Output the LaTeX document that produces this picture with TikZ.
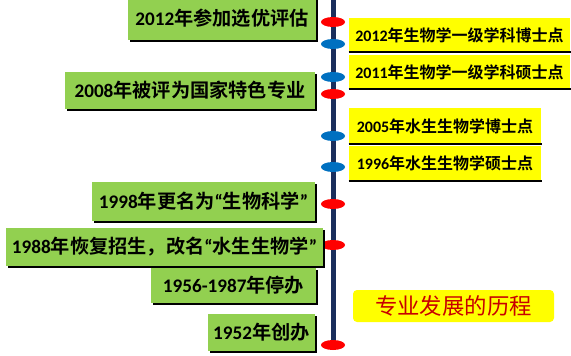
\documentclass[tikz,border=0pt]{standalone}
\usepackage{fontspec}
\setmainfont{Noto Sans CJK SC}[BoldFont={Noto Sans CJK SC Bold}]
\newfontfamily\latin{Carlito}
\usetikzlibrary{shapes.geometric,shadows,backgrounds}

\definecolor{stagegreen}{RGB}{146,208,80}
\definecolor{degreeyellow}{RGB}{255,255,0}
\definecolor{axisnavy}{RGB}{26,46,92}
\definecolor{dotred}{RGB}{255,0,0}
\definecolor{dotblue}{RGB}{0,112,192}
\definecolor{titlered}{RGB}{200,0,0}

\tikzset{every picture/.style={line width=0.75pt}}
\tikzset{
  stage/.style={fill=stagegreen, inner sep=0pt, font=\fontsize{14.4pt}{16pt}\selectfont\bfseries,
    drop shadow={shadow xshift=1.8pt, shadow yshift=-1.8pt, fill=black, opacity=1}},
  degree/.style={fill=degreeyellow, inner sep=0pt, font=\fontsize{12pt}{14pt}\selectfont\bfseries},
  dot/.style={ellipse, draw=none, minimum width=18pt, minimum height=7.5pt, inner sep=0pt},
}

\begin{document}
\begin{tikzpicture}[x=0.75pt,y=0.75pt,yscale=-1,xscale=1]
\useasboundingbox (0,0) rectangle (571,356);

%Shape: Ellipse (time points)
\node [dot, fill=dotred]  (p2012) at (333,22) {};
\node [dot, fill=dotblue] (q2012) at (333,44) {};
\node [dot, fill=dotblue] (q2011) at (333,77) {};
\node [dot, fill=dotred]  (p2008) at (333,94) {};
\node [dot, fill=dotblue] (q2005) at (333,136) {};
\node [dot, fill=dotblue] (q1996) at (333,167) {};
\node [dot, fill=dotred]  (p1998) at (333,204) {};
\node [dot, fill=dotred]  (p1988) at (333,245) {};
\node [dot, fill=dotred]  (p1952) at (333,345) {};

%Straight Lines: time axis
\coordinate (axistop) at (333,0);
\begin{scope}[on background layer]
\draw [axisnavy, line width=3.75pt] (axistop) -- (p1952.center);
\end{scope}

%Shape: Rectangle (stages)
\node [stage, minimum width=141pt, minimum height=32.25pt] (s2012) at (222,18.5)
  {{\latin 2012}年参加选优评估};
\node [stage, minimum width=187.5pt, minimum height=27.75pt] (s2008) at (190,90.5)
  {{\latin 2008}年被评为国家特色专业};
\node [stage, minimum width=167.25pt, minimum height=29.25pt] (s1998) at (203.5,201.5)
  {{\latin 1998}年更名为{\latin “}生物科学{\latin ”}};
\node [stage, minimum width=123.75pt, minimum height=26.25pt] (s1956) at (233.5,285.5)
  {{\latin 1956-1987}年停办};
\node [stage, minimum width=237.75pt, minimum height=28.5pt] (s1988) at (164.5,247)
  {{\latin 1988}年恢复招生，改名{\latin “}水生生物学{\latin ”}};
\node [stage, minimum width=80.25pt, minimum height=27.75pt] (s1952) at (261.5,332.5)
  {{\latin 1952}年创办};

%Shape: Rectangle (degrees)
\node [degree, minimum width=165.75pt, minimum height=25.5pt] (d2012) at (459.5,35)
  {{\latin 2012}年生物学一级学科博士点};
\node [degree, minimum width=165.75pt, minimum height=25.5pt] (d2011) at (459.5,72)
  {{\latin 2011}年生物学一级学科硕士点};
\node [degree, minimum width=144pt, minimum height=27pt] (d2005) at (445,126)
  {{\latin 2005}年水生生物学博士点};
\node [degree, minimum width=144pt, minimum height=26.25pt] (d1996) at (445,163.5)
  {{\latin 1996}年水生生物学硕士点};
\draw [line width=1.5pt] (d2012.south west) -- (d2012.south east);
\draw [line width=1.5pt] (d2011.south west) -- (d2011.south east);
\draw [line width=1.5pt] (d2005.south west) -- (d2005.south east);
\draw [line width=1.5pt] (d1996.south west) -- (d1996.south east);

% Text Node
\node [fill=degreeyellow, rounded corners=3pt, minimum width=150.75pt, minimum height=24pt,
  inner sep=0pt, text=titlered, font=\fontsize{16.8pt}{18pt}\selectfont] (title) at (453.5,306)
  {专业发展的历程};

\end{tikzpicture}
\end{document}
